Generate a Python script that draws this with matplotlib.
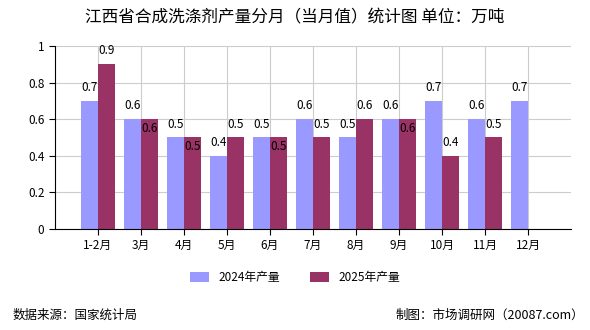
import numpy as np
import matplotlib.pyplot as plt

plt.rcParams['font.family'] = ['Noto Sans CJK SC', 'DejaVu Sans']

months = ["1-2月", "3月", "4月", "5月", "6月", "7月", "8月", "9月", "10月", "11月", "12月"]
prod_2024 = [0.7, 0.6, 0.5, 0.4, 0.5, 0.6, 0.5, 0.6, 0.7, 0.6, 0.7]
prod_2025 = [0.9, 0.6, 0.5, 0.5, 0.5, 0.5, 0.6, 0.6, 0.4, 0.5, None]

c24 = "#9999FF"
c25 = "#993366"


def put_labels(ax, xs, vals, inside):
    for x, v, ins in zip(xs, vals, inside):
        if v is None:
            continue
        off = -6.5 if ins else 9.5
        ax.annotate(f"{v:g}", (x, v), xytext=(0, off), textcoords="offset points",
                    ha="center", va="center", fontsize=8.5, color="black")


fig = plt.figure(figsize=(5.9, 3.3), dpi=100)
ax = fig.add_axes([0.093, 0.306, 0.875, 0.555])

x = np.arange(len(months))
w = 0.4
v25 = [np.nan if v is None else v for v in prod_2025]
ax.bar(x - w / 2, prod_2024, width=w, color=c24, label="2024年产量", zorder=2)
ax.bar(x + w / 2, v25, width=w, color=c25, label="2025年产量", zorder=2)

# 2025 label drops inside the bar when it would collide with the 2024 one
put_labels(ax, x - w / 2, prod_2024, [False] * len(months))
put_labels(ax, x + w / 2, prod_2025, [a == b for a, b in zip(prod_2024, prod_2025)])

ax.set_xlim(-1, len(months))
ax.set_ylim(0, 1)
ax.set_xticks(x)
ax.set_xticklabels(months, fontsize=8.5)
ax.set_yticks([0, 0.2, 0.4, 0.6, 0.8, 1])
ax.set_yticklabels(["0", "0.2", "0.4", "0.6", "0.8", "1"], fontsize=8.5)
ax.grid(True, color="#cccccc", linewidth=0.8, zorder=0)
ax.set_axisbelow(True)
for s in ["top", "right"]:
    ax.spines[s].set_visible(False)
ax.spines["left"].set_color("black")
ax.spines["bottom"].set_color("black")
ax.tick_params(length=4, color="black")

fig.legend(loc="center", bbox_to_anchor=(0.5, 0.16), ncol=2, frameon=False,
           fontsize=8.5, handlelength=1.6, handleheight=0.9, columnspacing=2.5)

fig.text(0.5, 0.945, "江西省合成洗涤剂产量分月（当月值）统计图 单位：万吨",
         ha="center", va="center", fontsize=12)
fig.text(0.022, 0.045, "数据来源：国家统计局", ha="left", va="center", fontsize=9)
fig.text(0.99, 0.045, "制图：市场调研网（20087.com）", ha="right", va="center", fontsize=9)

fig.savefig("out.png", dpi=100)
